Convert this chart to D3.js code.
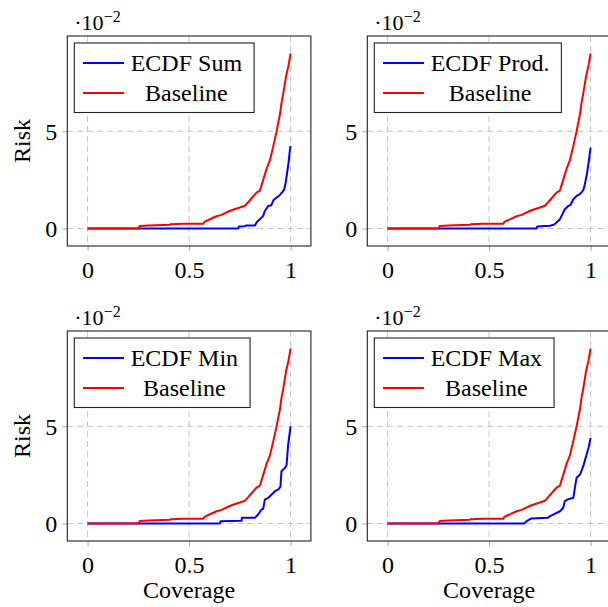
<!DOCTYPE html>
<html><head><meta charset="utf-8">
<script src="https://cdn.jsdelivr.net/npm/d3@7"></script>
<style>body{margin:0;background:#fff}svg{display:block}</style>
</head><body>
<svg id="c" width="608" height="607"></svg>
<script>
const xTicks = [0, 0.5, 1];
const xTickLabels = ["0", "0.5", "1"];
const yTicks = [0, 5];
const yTickLabels = ["0", "5"];
const seriesNames = ["ECDF Sum", "ECDF Prod.", "ECDF Min", "ECDF Max"];
const baselineName = "Baseline";

// Baseline (same in each panel): [coverage, risk ·10^-2]
const baseline = [[0,0],[0.25,0],[0.257,0.13],[0.30,0.15],[0.405,0.19],[0.41,0.22],[0.47,0.25],[0.57,0.24],[0.575,0.34],[0.59,0.41],[0.635,0.63],[0.66,0.7],[0.70,0.9],[0.72,0.98],[0.75,1.08],[0.775,1.17],[0.79,1.34],[0.81,1.58],[0.832,1.85],[0.849,1.95],[0.865,2.5],[0.882,3.08],[0.898,3.5],[0.915,4.25],[0.931,5.0],[0.948,5.9],[0.955,6.45],[0.964,6.95],[0.977,7.8],[0.99,8.4],[1.0,9.0]];

const ecdfSum = [[0,0],[0.742,0],[0.745,0.1],[0.775,0.12],[0.78,0.15],[0.824,0.15],[0.835,0.35],[0.849,0.48],[0.865,0.65],[0.873,0.9],[0.89,1.16],[0.905,1.2],[0.915,1.45],[0.931,1.59],[0.945,1.7],[0.96,1.88],[0.968,2.0],[0.975,2.3],[0.983,2.88],[0.99,3.4],[0.997,4.08],[1.0,4.24]];
const ecdfProd = [[0,0],[0.733,0],[0.737,0.1],[0.80,0.14],[0.82,0.2],[0.832,0.31],[0.849,0.48],[0.862,0.75],[0.873,0.99],[0.89,1.16],[0.9,1.2],[0.915,1.5],[0.931,1.68],[0.945,1.75],[0.955,1.85],[0.965,2.0],[0.972,2.28],[0.983,2.88],[0.993,3.6],[1.0,4.16]];
const ecdfMin = [[0,0],[0.652,0],[0.655,0.12],[0.758,0.14],[0.76,0.29],[0.824,0.29],[0.84,0.46],[0.857,0.72],[0.865,0.75],[0.873,1.23],[0.89,1.32],[0.898,1.4],[0.923,1.66],[0.94,1.75],[0.95,1.9],[0.955,2.69],[0.972,2.86],[0.98,3.0],[0.988,4.06],[1.0,5.0]];
const ecdfMax = [[0,0],[0.672,0],[0.685,0.12],[0.709,0.26],[0.79,0.3],[0.8,0.38],[0.816,0.46],[0.849,0.63],[0.865,0.8],[0.873,1.15],[0.89,1.25],[0.915,1.32],[0.925,2.0],[0.931,2.35],[0.948,2.52],[0.964,2.95],[0.98,3.54],[0.99,3.9],[1.0,4.4]];
const ecdfSeries = [ecdfSum, ecdfProd, ecdfMin, ecdfMax];

const svg = d3.select("#c");
const FONT = "'Liberation Serif','Times New Roman',serif";
const FS = 24;
const colX = [67.3, 367.3], rowY = [36, 331];
const W = 243.6, H = 210;

ecdfSeries.forEach((data, i) => {
  const col = i % 2, row = Math.floor(i / 2);
  const x0 = colX[col], y0 = rowY[row];
  const x = d3.scaleLinear().domain([-0.1, 1.1]).range([x0, x0 + W]);
  const y = d3.scaleLinear().domain([-0.9, 9.9]).range([y0 + H, y0]);
  const g = svg.append("g");

  // grid
  g.selectAll(".gx").data(xTicks).join("line")
    .attr("x1", d => x(d)).attr("x2", d => x(d)).attr("y1", y0).attr("y2", y0 + H)
    .attr("stroke", "#c4c4c4").attr("stroke-width", 1).attr("stroke-dasharray", "6,4");
  g.selectAll(".gy").data(yTicks).join("line")
    .attr("y1", d => y(d)).attr("y2", d => y(d)).attr("x1", x0).attr("x2", x0 + W)
    .attr("stroke", "#c4c4c4").attr("stroke-width", 1).attr("stroke-dasharray", "6,4");

  // axes via d3
  const xAxis = d3.axisBottom(x).tickValues(xTicks).tickFormat((d, k) => xTickLabels[k]).tickSize(5).tickPadding(5);
  const ax = g.append("g").attr("transform", `translate(0,${y0 + H})`).call(xAxis);
  const yAxis = d3.axisLeft(y).tickValues(yTicks).tickFormat((d, k) => yTickLabels[k]).tickSize(5).tickPadding(5);
  const ay = g.append("g").attr("transform", `translate(${x0},0)`).call(yAxis);
  [ax, ay].forEach(a => {
    a.select(".domain").remove();
    a.selectAll(".tick line").attr("stroke", "#aaa");
    a.selectAll(".tick text").attr("font-family", FONT).attr("font-size", FS).attr("fill", "#000");
  });
  ax.selectAll(".tick text").attr("dy", "0.9em");
  ay.selectAll(".tick text").attr("dy", "0.34em");

  // lines
  const line = d3.line().x(d => x(d[0])).y(d => y(d[1]));
  g.append("path").datum(data).attr("d", line).attr("fill", "none")
    .attr("stroke", "#0000ff").attr("stroke-width", 2).attr("stroke-linejoin", "round");
  g.append("path").datum(baseline).attr("d", line).attr("fill", "none")
    .attr("stroke", "#ff0000").attr("stroke-width", 2).attr("stroke-linejoin", "round");

  // frame
  g.append("rect").attr("x", x0).attr("y", y0).attr("width", W).attr("height", H)
    .attr("fill", "none").attr("stroke", "#222").attr("stroke-width", 1.1);

  // scale label
  const st = g.append("text").attr("x", x0 + 7).attr("y", y0 - 6)
    .attr("font-family", FONT).attr("font-size", 22);
  st.append("tspan").text("·10");
  st.append("tspan").attr("font-size", 16).attr("dy", -8).text("−2");

  // legend
  const lx = x0 + 7, ly = y0 + 7;
  const lg = g.append("g");
  const box = lg.append("rect").attr("x", lx).attr("y", ly).attr("height", 69.5)
    .attr("fill", "#fff").attr("stroke", "#222").attr("stroke-width", 1.1);
  const names = [seriesNames[i], baselineName];
  const cols = ["#0000ff", "#ff0000"];
  const tx = lx + 56.4;
  const texts = names.map((n, k) => {
    const ry = ly + 20 + 30 * k;
    lg.append("line").attr("x1", lx + 8.7).attr("x2", lx + 49.7).attr("y1", ry).attr("y2", ry)
      .attr("stroke", cols[k]).attr("stroke-width", 2);
    return lg.append("text").attr("y", ry + 8).attr("font-family", FONT).attr("font-size", FS)
      .attr("text-anchor", "middle").text(n);
  });
  const wmax = d3.max(texts, t => t.node().getComputedTextLength());
  texts.forEach(t => t.attr("x", tx + wmax / 2));
  box.attr("width", tx + wmax + 12 - lx);

  // axis titles
  if (col === 0) {
    g.append("text").attr("transform", `translate(30,${y0 + H / 2}) rotate(-90)`)
      .attr("text-anchor", "middle").attr("font-family", FONT).attr("font-size", FS).text("Risk");
  }
  if (row === 1) {
    g.append("text").attr("x", x0 + W / 2).attr("y", y0 + H + 57)
      .attr("text-anchor", "middle").attr("font-family", FONT).attr("font-size", FS).text("Coverage");
  }
});
</script>
</body></html>
